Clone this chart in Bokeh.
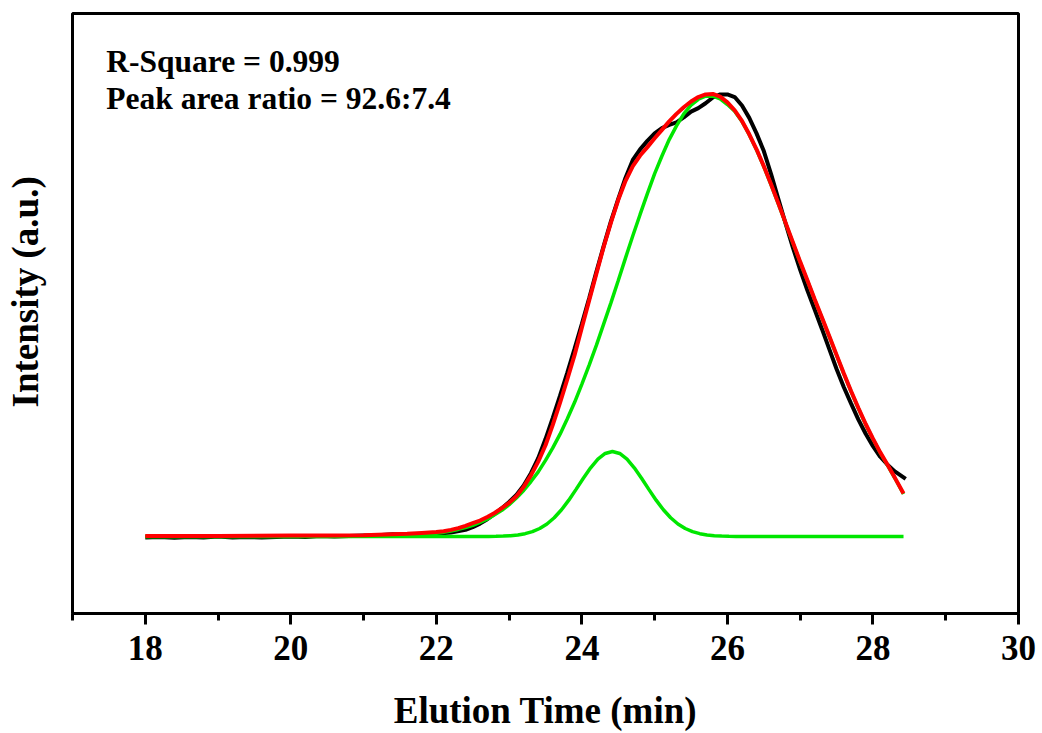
from bokeh.plotting import figure
from bokeh.models import Range1d, FixedTicker, Label, Title
from bokeh.embed import file_html
from bokeh.resources import INLINE

# ---------------- data ----------------
black_t = [18.0, 18.2, 18.4, 18.6, 18.8, 19.0, 19.2, 19.4, 19.6, 19.8, 20.0, 20.2, 20.4,
           20.6, 20.8, 21.0, 21.2, 21.4, 21.6, 21.8, 22.0, 22.2, 22.4, 22.5, 22.6, 22.7,
           22.8, 22.9, 23.0, 23.1, 23.2, 23.3, 23.4, 23.5, 23.6, 23.7, 23.8, 23.9, 24.0,
           24.1, 24.2, 24.3, 24.4, 24.5, 24.6, 24.7, 24.8, 24.9, 25.0, 25.1, 25.2, 25.3,
           25.4, 25.5, 25.6, 25.7, 25.8, 25.9, 26.0, 26.1, 26.2, 26.3, 26.4, 26.5, 26.6,
           26.7, 26.8, 26.9, 27.0, 27.1, 27.2, 27.3, 27.4, 27.5, 27.6, 27.7, 27.8, 27.9,
           28.0, 28.1, 28.2, 28.3, 28.45]
black_v = [-0.002, -0.001, -0.003, -0.001, -0.002, 0.000, -0.002, -0.001, -0.002, -0.001,
           0.000, -0.001, 0.001, 0.000, 0.001, 0.002, 0.003, 0.005, 0.004, 0.005, 0.006,
           0.009, 0.015, 0.021, 0.029, 0.039, 0.051, 0.064, 0.078, 0.094, 0.115, 0.143,
           0.177, 0.220, 0.268, 0.318, 0.370, 0.424, 0.480, 0.538, 0.598, 0.656, 0.712,
           0.762, 0.810, 0.850, 0.874, 0.893, 0.910, 0.922, 0.929, 0.935, 0.946, 0.959,
           0.967, 0.978, 0.991, 0.998, 0.998, 0.992, 0.973, 0.945, 0.910, 0.870, 0.818,
           0.762, 0.706, 0.652, 0.602, 0.555, 0.512, 0.468, 0.423, 0.378, 0.337, 0.300,
           0.264, 0.232, 0.204, 0.180, 0.162, 0.147, 0.130]

red_t = [18.0, 19.0, 20.0, 20.5, 21.0, 21.3, 21.6, 21.8, 22.0, 22.1, 22.2, 22.3, 22.4,
         22.5, 22.6, 22.7, 22.8, 22.9, 23.0, 23.1, 23.2, 23.3, 23.4, 23.5, 23.6, 23.7,
         23.8, 23.9, 24.0, 24.1, 24.2, 24.3, 24.4, 24.5, 24.6, 24.7, 24.8, 24.9, 25.0,
         25.1, 25.2, 25.3, 25.4, 25.5, 25.6, 25.7, 25.8, 25.9, 26.0, 26.1, 26.2, 26.3,
         26.4, 26.5, 26.6, 26.7, 26.8, 26.9, 27.0, 27.1, 27.2, 27.3, 27.4, 27.5, 27.6,
         27.7, 27.8, 27.9, 28.0, 28.1, 28.2, 28.3, 28.42]
red_v = [0.001, 0.001, 0.002, 0.002, 0.003, 0.0045, 0.006, 0.008, 0.010, 0.012, 0.015,
         0.019, 0.024, 0.030, 0.036, 0.044, 0.053, 0.064, 0.076, 0.091, 0.112, 0.138,
         0.169, 0.206, 0.252, 0.302, 0.355, 0.410, 0.472, 0.533, 0.594, 0.654, 0.709,
         0.760, 0.803, 0.836, 0.860, 0.879, 0.899, 0.918, 0.937, 0.954, 0.969, 0.982,
         0.992, 0.998, 0.999, 0.993, 0.980, 0.962, 0.938, 0.908, 0.874, 0.836, 0.795,
         0.752, 0.708, 0.664, 0.620, 0.578, 0.535, 0.494, 0.452, 0.410, 0.368, 0.328,
         0.290, 0.254, 0.221, 0.190, 0.162, 0.133, 0.097]

big_t = [18.0, 21.0, 21.5, 22.0, 22.1, 22.2, 22.3, 22.4, 22.5, 22.6, 22.7, 22.8, 22.9,
         23.0, 23.1, 23.2, 23.3, 23.4, 23.5, 23.6, 23.7, 23.8, 23.9, 24.0, 24.1, 24.2,
         24.3, 24.4, 24.5, 24.6, 24.7, 24.8, 24.9, 25.0, 25.1, 25.2, 25.3, 25.4, 25.5,
         25.6, 25.7, 25.8, 25.9, 26.0, 26.1, 26.2, 26.3, 26.4, 26.5, 26.6, 26.7, 26.8,
         26.9, 27.0, 27.1, 27.2, 27.3, 27.4, 27.5, 27.6, 27.7, 27.8, 27.9, 28.0, 28.1,
         28.2, 28.3, 28.42]
big_v = [0.0, 0.0004, 0.0019, 0.0075, 0.0097, 0.0125, 0.016, 0.020, 0.025, 0.032, 0.039,
         0.049, 0.059, 0.072, 0.087, 0.104, 0.124, 0.146, 0.172, 0.200, 0.231, 0.266,
         0.303, 0.344, 0.387, 0.432, 0.480, 0.528, 0.578, 0.629, 0.679, 0.727, 0.774,
         0.819, 0.859, 0.896, 0.927, 0.954, 0.974, 0.987, 0.994, 0.994, 0.988, 0.975,
         0.960, 0.937, 0.907, 0.873, 0.835, 0.794, 0.751, 0.707, 0.663, 0.619, 0.577,
         0.534, 0.493, 0.451, 0.409, 0.367, 0.327, 0.289, 0.253, 0.220, 0.189, 0.161,
         0.132, 0.096]

small_t = [18.0, 22.62, 22.72, 22.82, 22.92, 23.02, 23.12, 23.22, 23.32, 23.42, 23.52,
           23.62, 23.72, 23.82, 23.92, 24.02, 24.12, 24.22, 24.32, 24.42, 24.52, 24.62,
           24.72, 24.82, 24.92, 25.02, 25.12, 25.22, 25.32, 25.42, 25.52, 25.62, 25.72,
           25.82, 25.92, 26.02, 26.12, 28.42]
small_v = [0.0, 0.0, 0.0002, 0.0004, 0.0009, 0.0019, 0.0035, 0.0064, 0.0110, 0.0181,
           0.0283, 0.0423, 0.0603, 0.0820, 0.1064, 0.1316, 0.1552, 0.1747, 0.1875, 0.192,
           0.1875, 0.1747, 0.1552, 0.1316, 0.1064, 0.0820, 0.0603, 0.0423, 0.0283, 0.0181,
           0.0110, 0.0064, 0.0035, 0.0019, 0.0009, 0.0004, 0.0002, 0.0]

x_ticks = [18, 20, 22, 24, 26, 28, 30]
x_minor = [17, 19, 21, 23, 25, 27, 29]
annotations = ["R-Square = 0.999", "Peak area ratio = 92.6:7.4"]
x_title = "Elution Time (min)"
y_title = "Intensity (a.u.)"

FONT = "Liberation Serif"
GREEN = "#00e600"

p = figure(frame_width=946, frame_height=600,
           min_border_left=72, min_border_right=24, min_border_top=13, min_border_bottom=120,
           x_range=Range1d(17, 30), y_range=Range1d(-0.1738, 1.1806),
           y_axis_location=None,
           output_backend="svg", toolbar_location=None,
           background_fill_color="white", border_fill_color="white")

p.xgrid.visible = False
p.ygrid.visible = False
p.outline_line_color = "black"
p.outline_line_width = 3
p.outline_line_alpha = 1.0

ax = p.xaxis[0]
ax.ticker = FixedTicker(ticks=x_ticks, minor_ticks=x_minor)
ax.axis_line_width = 3
ax.axis_line_color = "black"
ax.major_tick_line_width = 3
ax.minor_tick_line_width = 3
ax.major_tick_line_color = "black"
ax.minor_tick_line_color = "black"
ax.major_tick_in = 0
ax.major_tick_out = 11
ax.minor_tick_in = 0
ax.minor_tick_out = 7
ax.major_label_text_font = FONT
ax.major_label_text_font_style = "bold"
ax.major_label_text_font_size = "35px"
ax.major_label_text_color = "black"
ax.major_label_standoff = 11
ax.axis_label = x_title
ax.axis_label_text_font = FONT
ax.axis_label_text_font_style = "bold"
ax.axis_label_text_font_size = "37px"
ax.axis_label_text_color = "black"
ax.axis_label_standoff = 27

p.line(black_t, black_v, line_color="black", line_width=4)
p.line(small_t, small_v, line_color=GREEN, line_width=3.5)
p.line(big_t, big_v, line_color=GREEN, line_width=3.5)
p.line(red_t, red_v, line_color="#ff0000", line_width=4)

for txt, yy in zip(annotations, [1.073, 0.989]):
    p.add_layout(Label(x=17.464, y=yy, text=txt, text_font=FONT, text_font_style="bold",
                       text_font_size="31.5px", text_color="black",
                       text_baseline="alphabetic", text_align="left"))

# y-axis title: a spacer panel next to the frame, then the title itself
p.add_layout(Title(text=" ", text_font_size="1px", standoff=22), "left")
p.add_layout(Title(text=y_title, text_font=FONT, text_font_style="bold",
                   text_font_size="37px", text_color="black",
                   align="left", offset=206, vertical_align="top", standoff=0), "left")

open("out.html", "w").write(file_html(p, INLINE))
